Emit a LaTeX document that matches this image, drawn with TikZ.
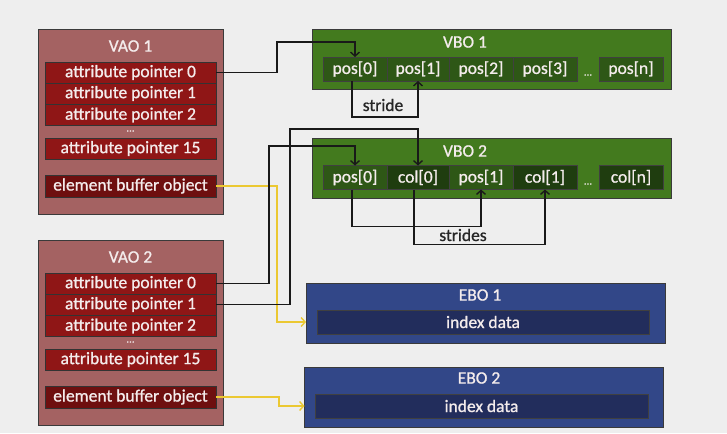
\documentclass[tikz,border=0pt]{standalone}
\usepackage{fontspec}
\setmainfont{Carlito}
\newfontfamily\labelfont{Carlito}[FakeBold=0.9]
\usetikzlibrary{arrows.meta,calc}
\definecolor{bg}{HTML}{EEEEEE}
\definecolor{vaofill}{HTML}{A46262}
\definecolor{attrfill}{HTML}{8F1616}
\definecolor{ebofillrow}{HTML}{6E0F0F}
\definecolor{vbofill}{HTML}{437A1E}
\definecolor{poscell}{HTML}{2E5716}
\definecolor{colcell}{HTML}{1F3D0F}
\definecolor{ebofill}{HTML}{324788}
\definecolor{ebocell}{HTML}{222D5C}
\definecolor{edge}{HTML}{3A3A3A}
\definecolor{lighttext}{HTML}{F4ECEC}
\definecolor{linkyellow}{HTML}{EBC832}
\begin{document}
\begin{tikzpicture}[x=1pt,y=-1pt,
  every node/.style={font=\labelfont\fontsize{17.5}{18}\selectfont, inner sep=0pt, outer sep=0pt},
  container/.style={draw=edge, line width=0.8pt, rectangle},
  vaobox/.style={container, fill=vaofill, minimum width=185pt, minimum height=185pt},
  attrrow/.style={draw=black!80, line width=0.8pt, fill=attrfill, text=lighttext, minimum width=171pt, minimum height=21pt},
  eborow/.style={attrrow, fill=ebofillrow, minimum height=22pt},
  boxtitle/.style={text=lighttext},
  vbobox/.style={container, fill=vbofill, minimum width=359pt, minimum height=60pt},
  cell/.style={draw=black!75, line width=0.8pt, text=lighttext, minimum height=24pt},
  poscellst/.style={cell, fill=poscell},
  colcellst/.style={cell, fill=colcell},
  ebobox/.style={container, fill=ebofill, minimum width=359pt, minimum height=60pt},
  indexcell/.style={draw=black!75, line width=0.8pt, fill=ebocell, text=lighttext, minimum width=332pt, minimum height=24pt},
  dots/.style={text=lighttext, font=\labelfont\fontsize{11}{11}\selectfont},
  link/.style={draw=black!90, line width=1.6pt, -{Straight Barb[length=4pt,width=9pt,line width=1.4pt]}},
  ylink/.style={draw=linkyellow, line width=1.6pt, -{Straight Barb[length=4pt,width=9pt,line width=1.4pt]}},
  plainlabel/.style={text=black!85}
]
\useasboundingbox[fill=bg] (0,0) rectangle (727,433);

% vertex array objects
\foreach \pre/\dy/\num in {v1/0/1, v2/211/2}{
  \begin{scope}[shift={(0,\dy)}, name prefix=\pre]
    \node[vaobox] (box) at (130.5,121.5) {};
    \node[boxtitle] (title) at (130.5,46) {VAO \num};
    \node[attrrow] (a0) at (130.5,72.5) {attribute pointer 0};
    \node[attrrow] (a1) at (130.5,93.5) {attribute pointer 1};
    \node[attrrow] (a2) at (130.5,115) {attribute pointer 2};
    \node[dots] (dd) at (130.5,131) {...};
    \node[attrrow] (a15) at (130.5,148.5) {attribute pointer 15};
    \node[eborow] (eb) at (130.5,186) {element buffer object};
  \end{scope}
}

% vertex buffer object 1
\node[vbobox] (vbo1) at (491.5,59) {};
\node[boxtitle] (vbo1t) at (465,42) {VBO 1};
\node[poscellst, minimum width=64pt] (b1p0) at (355,69) {pos[0]};
\node[poscellst, minimum width=62pt] (b1p1) at (418,69) {pos[1]};
\node[poscellst, minimum width=64pt] (b1p2) at (481,69) {pos[2]};
\node[poscellst, minimum width=64pt] (b1p3) at (545,69) {pos[3]};
\node[dots] (b1dots) at (588,75) {...};
\node[poscellst, minimum width=64pt] (b1pn) at (631,69) {pos[n]};

% vertex buffer object 2
\node[vbobox] (vbo2) at (491.5,168) {};
\node[boxtitle] (vbo2t) at (465,151) {VBO 2};
\node[poscellst, minimum width=64pt] (b2p0) at (355,177.5) {pos[0]};
\node[colcellst, minimum width=62pt] (b2c0) at (418,177.5) {col[0]};
\node[poscellst, minimum width=64pt] (b2p1) at (481,177.5) {pos[1]};
\node[colcellst, minimum width=64pt] (b2c1) at (545,177.5) {col[1]};
\node[dots] (b2dots) at (588,184) {...};
\node[colcellst, minimum width=64pt] (b2cn) at (631,177.5) {col[n]};

% element buffer objects
\node[ebobox] (e1) at (485.5,313) {};
\node[boxtitle] (e1t) at (480,295) {EBO 1};
\node[indexcell] (e1in) at (483,322) {index data};
\node[ebobox] (e2) at (484,397) {};
\node[boxtitle] (e2t) at (479,378) {EBO 2};
\node[indexcell, minimum width=333pt] (e2in) at (481.5,406) {index data};

% element buffer links
\draw[ylink] (v1eb.east) -| (277,322) -- (e1.west |- e1in.center);
\draw[ylink] (v2eb.east) -| (279,406) -- (e2.west |- e2in.center);

% attribute pointer links
\draw[link] (v1a0.east) -| (277,42) -| (b1p0.north);
\draw[link] (v2a0.east) -| (269,146) -| (b2p0.north);
\draw[link] (v2a1.east) -| (290,129) -| (b2c0.north);

% strides
\draw[link] ([xshift=-3pt]b1p0.south) -- ++(0,36) -| (b1p1.south);
\node[plainlabel] (stridelbl) at (383,105) {stride};
\draw[link] ([xshift=-3pt]b2p0.south) -- ++(0,37) -| (b2p1.south);
\draw[link] ([xshift=-4pt]b2c0.south) -- ++(0,55) -| (b2c1.south);
\node[plainlabel] (strideslbl) at (463,235) {strides};
\end{tikzpicture}
\end{document}
